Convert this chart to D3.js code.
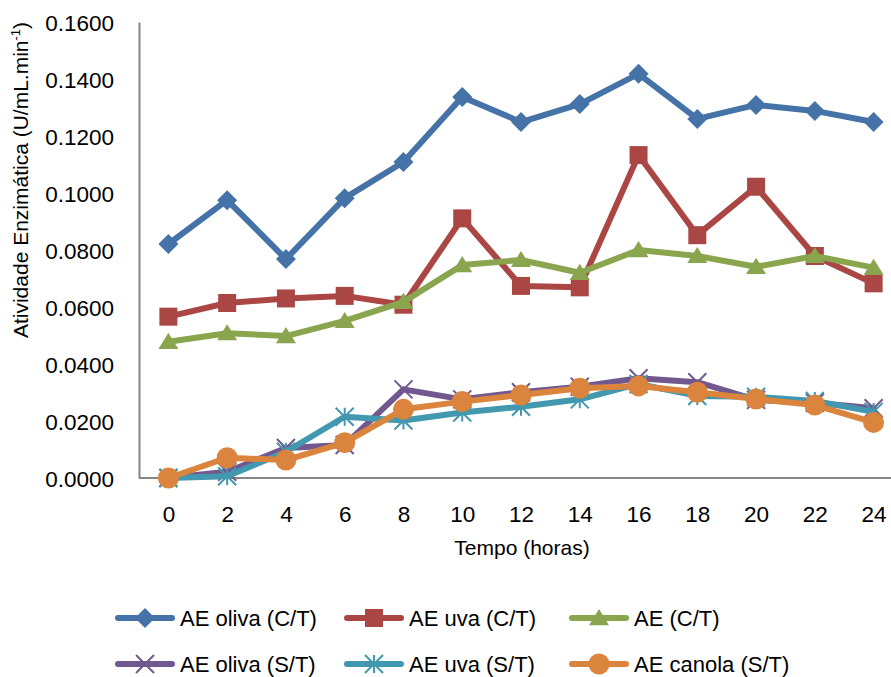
<!DOCTYPE html>
<html>
<head>
<meta charset="utf-8">
<script src="https://cdn.jsdelivr.net/npm/d3@7"></script>
<style>
  body { margin: 0; background: #fff; }
  text { font-family: "Liberation Sans", Arial, sans-serif; fill: #000; }
</style>
</head>
<body>
<div id="chart-area"></div>
<script>
const canvas_width = 891;
const canvas_height = 677;

const hours = ['0', '2', '4', '6', '8', '10', '12', '14', '16', '18', '20', '22', '24'];
const y_ticks = [0, 0.02, 0.04, 0.06, 0.08, 0.10, 0.12, 0.14, 0.16];

const series_names = ['AE oliva (C/T)', 'AE uva (C/T)', 'AE (C/T)', 'AE oliva (S/T)', 'AE uva (S/T)', 'AE canola (S/T)'];
const oliva_ct  = [0.0821, 0.0975, 0.0768, 0.0982, 0.1109, 0.1337, 0.1249, 0.1312, 0.1418, 0.1260, 0.1309, 0.1288, 0.1249];
const uva_ct    = [0.0566, 0.0614, 0.0630, 0.0639, 0.0608, 0.0911, 0.0674, 0.0669, 0.1133, 0.0852, 0.1022, 0.0779, 0.0683];
const ae_ct     = [0.0478, 0.0508, 0.0498, 0.0551, 0.0618, 0.0747, 0.0765, 0.0720, 0.0800, 0.0779, 0.0741, 0.0779, 0.0738];
const oliva_st  = [0.0000, 0.0022, 0.0105, 0.0116, 0.0311, 0.0276, 0.0301, 0.0320, 0.0350, 0.0336, 0.0274, 0.0264, 0.0245];
const uva_st    = [0.0000, 0.0006, 0.0092, 0.0215, 0.0202, 0.0230, 0.0250, 0.0276, 0.0330, 0.0288, 0.0285, 0.0270, 0.0232];
const canola_st = [0.0000, 0.0071, 0.0063, 0.0124, 0.0241, 0.0268, 0.0291, 0.0315, 0.0323, 0.0301, 0.0277, 0.0256, 0.0195];

const colors  = ['#4572A7', '#AA4643', '#89A54E', '#71588F', '#4198AF', '#DB843D'];
const markers = ['diamond', 'square', 'triangle', 'x', 'star', 'circle'];
const all_values = [oliva_ct, uva_ct, ae_ct, oliva_st, uva_st, canola_st];

const x_axis_label = 'Tempo (horas)';

const plot = { left: 139, top: 22, bottom: 478, right: 903 };

let canvas = d3.select('#chart-area').append('svg')
    .attr('width', canvas_width)
    .attr('height', canvas_height);

let x = d3.scalePoint()
    .domain(hours)
    .range([plot.left, plot.right])
    .padding(0.5);

let y = d3.scaleLinear()
    .domain([0, 0.16])
    .range([plot.bottom, plot.top]);

// marker path centred at (0,0)
function markerPath(type, s) {
    let r = s / 2;
    if (type === 'diamond') return `M0,${-r}L${r},0L0,${r}L${-r},0Z`;
    if (type === 'square') return `M${-r},${-r}H${r}V${r}H${-r}Z`;
    if (type === 'triangle') return `M0,${-r * 0.95}L${r * 1.05},${r * 0.75}L${-r * 1.05},${r * 0.75}Z`;
    if (type === 'circle') return `M${r},0A${r},${r} 0 1,1 ${-r},0A${r},${r} 0 1,1 ${r},0Z`;
    if (type === 'x') return `M${-r},${-r}L${r},${r}M${r},${-r}L${-r},${r}`;
    if (type === 'star') return `M${-r},${-r}L${r},${r}M${r},${-r}L${-r},${r}M0,${-r}V${r}`;
}
const marker_size = { diamond: 20, square: 18, triangle: 19, circle: 21, x: 18, star: 18 };

function drawMarker(g, type, color) {
    let stroked = (type === 'x' || type === 'star');
    g.append('path')
        .attr('d', markerPath(type, marker_size[type]))
        .attr('fill', stroked ? 'none' : color)
        .attr('stroke', stroked ? color : 'none')
        .attr('stroke-width', stroked ? 2 : 0);
}

// axes
let bottomAxis = d3.axisBottom(x).tickSize(0).tickPadding(28);
let gx = canvas.append('g')
    .attr('class', 'bottom axis')
    .attr('transform', `translate(0, ${plot.bottom})`)
    .call(bottomAxis);
gx.select('.domain').attr('d', `M${plot.left},0H${canvas_width}`);

let leftAxis = d3.axisLeft(y)
    .tickValues(y_ticks)
    .tickSize(0)
    .tickPadding(25)
    .tickFormat(d3.format('.4f'));
let gy = canvas.append('g')
    .attr('class', 'left axis')
    .attr('transform', `translate(${plot.left}, 0)`)
    .call(leftAxis);

canvas.selectAll('.axis .domain')
    .attr('stroke', '#868686')
    .attr('stroke-width', 2);
canvas.selectAll('.axis text')
    .attr('font-family', '"Liberation Sans", Arial, sans-serif')
    .attr('font-size', '22.5px')
    .attr('fill', '#000');
gy.selectAll('text').attr('dy', '0.36em');
gx.selectAll('text').attr('dy', '0.71em');

// series
let line = d3.line()
    .x((d, i) => x(hours[i]))
    .y((d) => y(d));

all_values.forEach((vals, s) => {
    let g = canvas.append('g').attr('class', 'series');
    g.append('path')
        .attr('d', line(vals))
        .attr('fill', 'none')
        .attr('stroke', colors[s])
        .attr('stroke-width', 6)
        .attr('stroke-linejoin', 'round')
        .attr('stroke-linecap', 'round');
    vals.forEach((v, i) => {
        let m = g.append('g').attr('transform', `translate(${x(hours[i])}, ${y(v)})`);
        drawMarker(m, markers[s], colors[s]);
    });
});

// axis labels
canvas.append('text')
    .attr('class', 'x axis-label')
    .attr('x', 522)
    .attr('y', 555)
    .attr('font-size', '21px')
    .attr('text-anchor', 'middle')
    .text(x_axis_label);

let ylab = canvas.append('text')
    .attr('class', 'y axis-label')
    .attr('transform', 'translate(28, 180) rotate(-90)')
    .attr('font-size', '21px')
    .attr('text-anchor', 'middle');
ylab.append('tspan').text('Atividade Enzimática (U/mL.min');
ylab.append('tspan').attr('font-size', '13px').attr('dy', '-8').text('-1');
ylab.append('tspan').attr('dy', '8').text(')');

// legend
const legend_x = [118, 347, 572];
const legend_y = [618, 664];
series_names.forEach((name, s) => {
    let lx = legend_x[s % 3];
    let ly = legend_y[Math.floor(s / 3)];
    let g = canvas.append('g').attr('class', 'legend').attr('transform', `translate(${lx}, ${ly})`);
    g.append('line')
        .attr('x1', 0).attr('x2', 54)
        .attr('stroke', colors[s])
        .attr('stroke-width', 6)
        .attr('stroke-linecap', 'round');
    let m = g.append('g').attr('transform', 'translate(27, 0)');
    drawMarker(m, markers[s], colors[s]);
    g.append('text')
        .attr('x', 62)
        .attr('dy', '0.36em')
        .attr('font-size', '22px')
        .text(name);
});
</script>
</body>
</html>
